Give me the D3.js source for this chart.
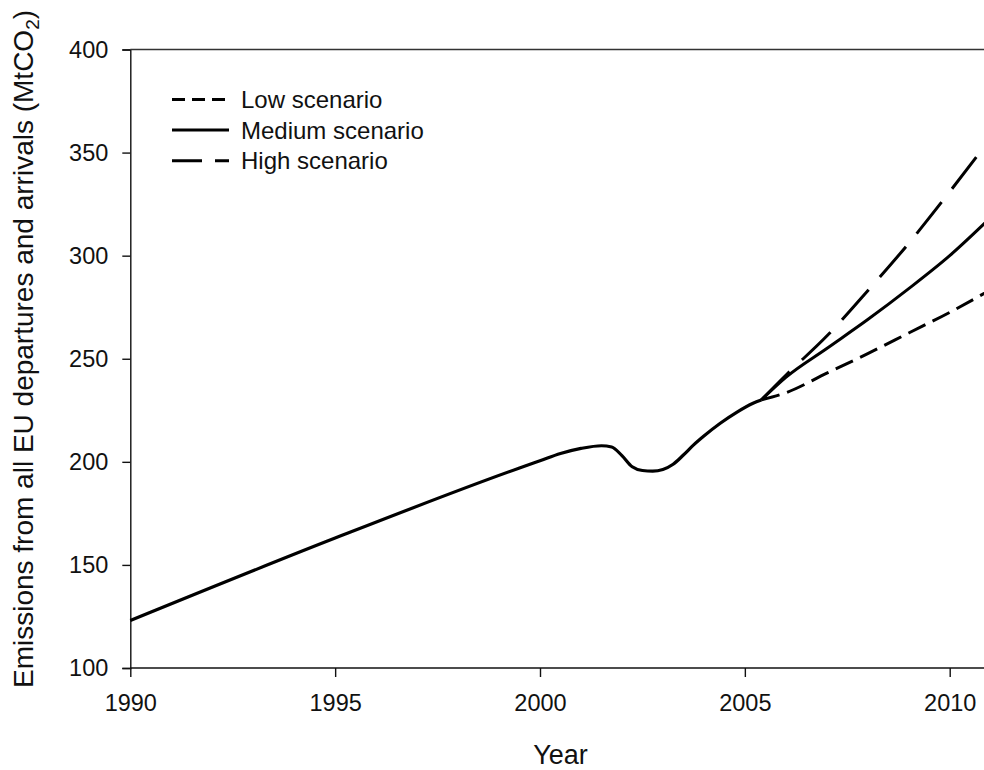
<!DOCTYPE html>
<html>
<head>
<meta charset="utf-8">
<script src="https://cdn.jsdelivr.net/npm/d3@7"></script>
<style>
  body { margin: 0; background: #fff; }
  svg { display: block; font-family: "Liberation Sans", Arial, sans-serif; }
</style>
</head>
<body>
<div class="chart"></div>
<script>
// historical emissions (MtCO2), one shared line up to the branch point
const histYears  = [1990, 1995, 1999.5, 2000, 2000.5, 2001, 2001.5, 2001.75, 2002, 2002.25, 2002.5, 2002.75, 2003, 2003.25, 2003.5, 2003.75, 2004, 2004.4, 2004.8, 2005.2, 2005.4];
const histValues = [123, 163, 197, 200.5, 204, 206.5, 207.8, 207.2, 203, 197.6, 195.8, 195.5, 196.3, 198.8, 203.3, 208.2, 212.5, 218.7, 224, 228.4, 230];

// scenario projections
const scenYears   = [2005.4, 2006, 2007, 2008, 2009, 2010, 2011];
const lowValues    = [230, 233.5, 243, 252.5, 262.5, 272.5, 283.5];
const mediumValues = [230, 241, 255, 269, 284, 300, 318.5];
const highValues   = [230, 242, 261, 283, 306, 331, 357];

const scenNames = ["Low scenario", "Medium scenario", "High scenario"];
const yTicks = [100, 150, 200, 250, 300, 350, 400];
const xTicks = [1990, 1995, 2000, 2005, 2010];

const width = 984, height = 770;
const margin = { top: 49.5, left: 130.3, bottom: 102 };

const svg = d3.select(".chart")
    .append("svg")
    .attr("width", width)
    .attr("height", height);

const x = d3.scaleLinear()
    .domain([1990, 2015])
    .range([margin.left, margin.left + 25 * 40.97]);

const y = d3.scaleLinear()
    .domain([100, 400])
    .range([height - margin.bottom, margin.top]);

// axes
const yAxis = g => g
    .attr("transform", `translate(${margin.left},0)`)
    .call(d3.axisLeft(y).tickValues(yTicks).tickSize(8).tickPadding(14))
    .call(g => g.selectAll("line, path").attr("stroke", "#111").attr("stroke-width", 1.4))
    .call(g => g.selectAll("text").attr("font-size", 23.5).attr("fill", "#111"));

const xAxis = g => g
    .attr("transform", `translate(0,${height - margin.bottom})`)
    .call(d3.axisBottom(x).tickValues(xTicks).tickFormat(d3.format("d")).tickSize(9).tickPadding(17).tickSizeOuter(0))
    .call(g => g.select(".domain").attr("d", `M${x(1990)},0H${x(2015)}`))
    .call(g => g.selectAll("line, path").attr("stroke", "#111").attr("stroke-width", 1.4))
    .call(g => g.selectAll("text").attr("font-size", 23.5).attr("fill", "#111"));

svg.append("g").call(yAxis);
svg.append("g").call(xAxis);

// top frame line
svg.append("line")
    .attr("x1", x(1990)).attr("x2", x(2015))
    .attr("y1", y(400)).attr("y2", y(400))
    .attr("stroke", "#333")
    .attr("stroke-width", 1.6);

// axis titles
svg.append("text")
    .attr("x", x(2000.5))
    .attr("y", 764)
    .attr("text-anchor", "middle")
    .attr("font-size", 27)
    .attr("fill", "#111")
    .text("Year");

const yTitle = svg.append("text")
    .attr("transform", "translate(33,349) rotate(-90)")
    .attr("text-anchor", "middle")
    .attr("font-size", 28)
    .attr("fill", "#111");
yTitle.append("tspan").text("Emissions from all EU departures and arrivals (MtCO");
yTitle.append("tspan").attr("font-size", 19).attr("dy", 6).text("2");
yTitle.append("tspan").attr("dy", -6).text(")");

// lines
const line = d3.line()
    .x(d => x(d[0]))
    .y(d => y(d[1]))
    .curve(d3.curveMonotoneX);

const styles = [
    { values: lowValues, dash: "19 8", legendDash: "13 7" },
    { values: mediumValues, dash: null, legendDash: null },
    { values: highValues, dash: "40 17", legendDash: "30 13 14 100" }
];

svg.append("path")
    .datum(d3.zip(histYears, histValues))
    .attr("fill", "none")
    .attr("stroke", "#000")
    .attr("stroke-width", 3.2)
    .attr("stroke-linejoin", "round")
    .attr("d", line);

styles.forEach(s => {
    svg.append("path")
        .datum(d3.zip(scenYears, s.values))
        .attr("fill", "none")
        .attr("stroke", "#000")
        .attr("stroke-width", 3)
        .attr("stroke-dasharray", s.dash)
        .attr("d", line);
});

// legend
const legend = svg.append("g")
    .selectAll("g")
    .data(scenNames)
    .join("g")
    .attr("transform", (d, i) => `translate(172,${99.5 + i * 30.6})`);

legend.append("line")
    .attr("x1", 0).attr("x2", 57)
    .attr("stroke", "#000")
    .attr("stroke-width", 3)
    .attr("stroke-dasharray", (d, i) => styles[i].legendDash);

legend.append("text")
    .attr("x", 69)
    .attr("dy", "0.36em")
    .attr("font-size", 24)
    .attr("fill", "#111")
    .text(d => d);
</script>
</body>
</html>
